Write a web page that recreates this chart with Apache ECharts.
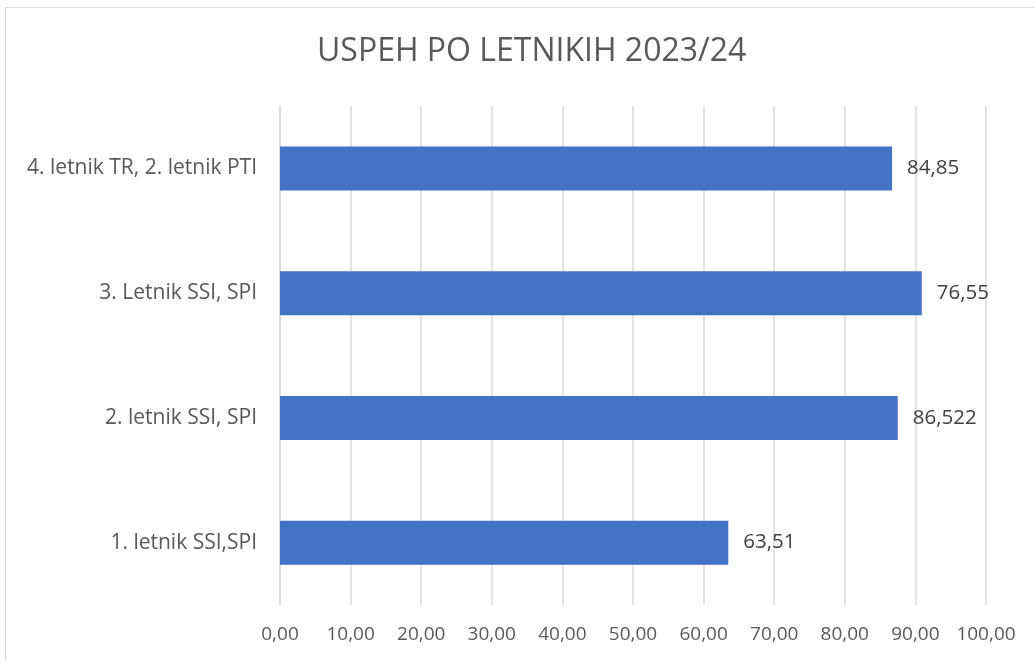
<!DOCTYPE html>
<html>
<head>
<meta charset="utf-8">
<script src="https://cdn.jsdelivr.net/npm/echarts@6/dist/echarts.min.js"></script>
<style>
  html, body { margin: 0; padding: 0; background: #fff; }
  #main { width: 1034px; height: 661px; }
</style>
</head>
<body>
<div id="main"></div>
<script>
// podatki
var categories = ['1. letnik SSI,SPI', '2. letnik SSI, SPI', '3. Letnik SSI, SPI', '4. letnik TR, 2. letnik PTI'];
var barValues = [63.5, 87.5, 90.9, 86.7];
var labelTexts = ['63,51', '86,522', '76,55', '84,85'];

var myChart = echarts.init(document.getElementById('main'));

var font = 'Open Sans';

var option = {
    backgroundColor: '#fff',
    animation: false,
    graphic: [{
        type: 'rect',
        shape: { x: 5.5, y: 7.5, width: 1040, height: 660 },
        style: { fill: 'none', stroke: '#d9d9d9', lineWidth: 1 }
    }],
    title: {
        text: 'USPEH PO LETNIKIH 2023/24',
        left: 312,
        top: 31,
        textStyle: { fontFamily: font, fontSize: 32, fontWeight: 'normal', color: '#595959' }
    },
    grid: { left: 280, right: 48, top: 106, bottom: 56 },
    xAxis: {
        type: 'value',
        min: 0, max: 100, interval: 10,
        axisLine: { show: false },
        axisTick: { show: false },
        splitLine: { lineStyle: { color: '#d9d9d9', width: 1.5 } },
        axisLabel: {
            margin: 20,
            fontFamily: font, fontSize: 19, color: '#595959',
            formatter: function (v) { return v.toFixed(2).replace('.', ','); }
        }
    },
    yAxis: {
        type: 'category',
        data: categories,
        axisLine: { show: true, lineStyle: { color: '#d9d9d9', width: 1.5 } },
        axisTick: { show: false },
        axisLabel: { margin: 23, fontFamily: font, fontSize: 21, color: '#595959' }
    },
    series: [{
        type: 'bar',
        data: barValues,
        barWidth: 44,
        itemStyle: { color: '#4472c4' },
        label: {
            show: true,
            position: 'right',
            distance: 15,
            fontFamily: font, fontSize: 20.5, color: '#404040',
            formatter: function (p) { return labelTexts[p.dataIndex]; }
        }
    }]
};

myChart.setOption(option);
</script>
</body>
</html>
